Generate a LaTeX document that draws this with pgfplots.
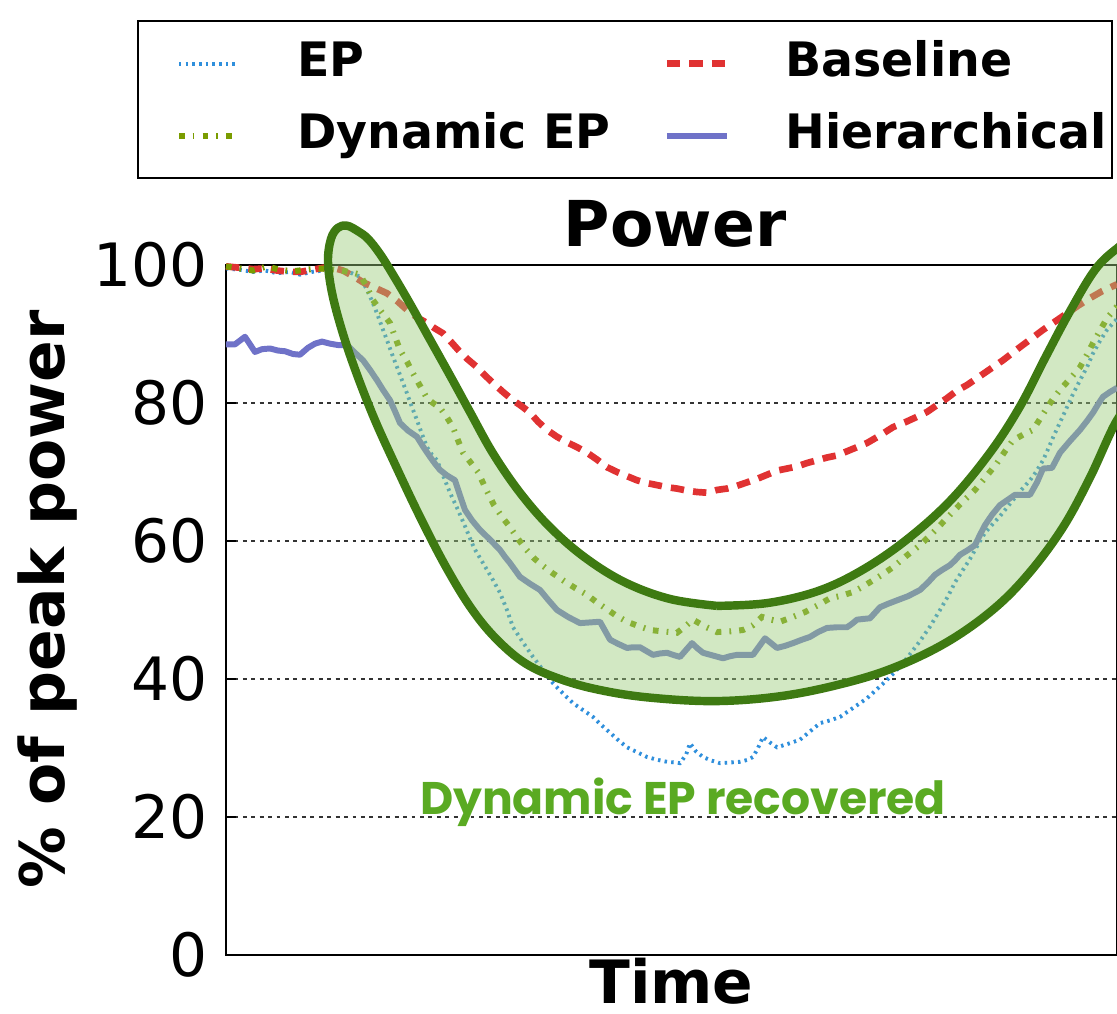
\documentclass[border=0pt]{standalone}
\usepackage{fontspec}
\setmainfont{DejaVu Sans}
\newfontfamily\gothic{Poppins}
\usepackage{pgfplots}
\pgfplotsset{compat=1.18}
\definecolor{epblue}{HTML}{2F8FDC}
\definecolor{basered}{HTML}{E03232}
\definecolor{dynolive}{HTML}{7A9C00}
\definecolor{hierblue}{HTML}{6F72C8}
\definecolor{banddark}{HTML}{3E7A12}
\definecolor{bandfill}{HTML}{9BCB7A}
\definecolor{recgreen}{HTML}{5AAA22}

\begin{document}
\begin{tikzpicture}
\begin{axis}[name=ax,
  scale only axis, width=8.91cm, height=6.9cm,
  xmin=226, xmax=1117, ymin=0, ymax=100,
  clip=false,
  axis line style={black, line width=0.8pt},
  xtick=\empty, ytick={0,20,...,100}, ytick pos=left,
  tick align=inside, major tick length=0.1cm,
  tick style={black, line width=0.5pt},
  ymajorgrids, major grid style={black!80, line width=0.5pt, dash pattern=on 1.1pt off 1.3pt},
  /pgf/number format/assume math mode=true,
  yticklabel style={anchor=east, inner sep=0pt, xshift=-0.18cm, font=\fontsize{17}{20}\selectfont},
  title={Power},
  title style={at={(axis description cs:0.504,1)}, anchor=base, yshift=-0.03cm, font=\fontsize{18}{21}\selectfont\bfseries},
  xlabel={Time},
  xlabel style={at={(axis description cs:0.5,0)}, anchor=base, yshift=-0.48cm, font=\fontsize{17}{20}\selectfont\bfseries},
  ylabel={\% of peak power},
  ylabel style={at={(axis description cs:-0.2,0.515)}, anchor=center, font=\fontsize{17.5}{20}\selectfont\bfseries},
  legend columns=2, legend cell align=left,
  legend image code/.code={\path (0cm,0cm); \draw[#1] (0.33cm,0cm) -- (0.93cm,0cm);},
  legend style={at={(-0.0999,1.355)}, anchor=north west, draw=black, line width=0.6pt,
    inner xsep=0.05cm, inner ysep=0.2cm, row sep=0.27cm,
    font=\fontsize{13.5}{16}\selectfont\bfseries,
    nodes={inner sep=0pt, text height=0.35cm, text depth=0.1cm, anchor=west},
    /tikz/every odd column/.append style={column sep=0.55cm},
    /tikz/every even column/.append style={column sep=0.2cm}},
]
% EP
\addplot[epblue, line width=1.1pt, dash pattern=on 0.7pt off 1.2pt] coordinates {
(226,99.5)(240,99.3)(253,99.0)(265,99.2)(277,98.8)(290,99.0)(300,98.6)(312,99.0)(323,99.2)(333,99.4)
(343,99.3)(352,98.8)(360,98.3)(367,96.4)(372,94.8)(377,93.0)(382,91.0)(387,89.1)(392,87.1)(397,85.2)
(402,83.3)(407,81.4)(412,79.4)(417,77.5)(422,75.5)(427,73.6)(432,72.5)(437,71.7)(443,69.5)(450,67.0)
(458,64.5)(466,61.8)(474,59.0)(483,56.8)(492,54.6)(500,52.5)(507,50.0)(513,47.5)(523,45.3)(533,43.2)
(543,41.3)(553,39.4)(563,37.9)(573,36.5)(583,35.5)(593,34.5)(600,33.5)(607,32.6)(617,31.3)(627,30.1)
(637,29.4)(647,28.7)(657,28.3)(667,28.0)(675,27.9)(680,27.8)(686,29.0)(690,30.7)(696,29.5)(703,28.7)
(711,28.2)(720,27.8)(730,27.9)(740,28.0)(748,28.3)(753,28.7)(758,30.0)(763,31.6)(770,30.8)(777,30.1)
(788,30.6)(800,31.2)(810,32.4)(820,33.6)(830,34.0)(840,34.5)(850,35.5)(860,36.5)(867,37.2)(873,38.0)
(882,39.2)(890,40.3)(900,41.8)(910,43.6)(920,45.5)(930,47.6)(940,50.0)(948,52.0)(955,54.0)(962,55.6)
(970,57.4)(978,59.5)(985,61.2)(993,62.5)(1000,63.6)(1010,65.4)(1020,67.2)(1030,68.8)(1036,70.0)(1043,71.7)
(1048,73.3)(1053,75.0)(1060,77.2)(1067,79.4)(1073,81.3)(1080,83.3)(1087,85.2)(1093,87.2)(1100,89.0)(1107,90.6)
(1117,92.2)};
\addlegendentry{EP}
% Baseline
\addplot[basered, line width=1.9pt, dash pattern=on 3.8pt off 2.6pt] coordinates {
(226,99.8)(240,99.6)(253,99.4)(265,99.5)(277,99.2)(290,99.0)(300,99.0)(312,99.3)(323,99.6)(333,99.6)
(343,99.2)(353,98.4)(363,97.5)(375,96.7)(387,95.9)(397,94.8)(407,93.5)(417,92.4)(427,91.6)(435,90.8)
(443,90.1)(452,88.7)(460,87.4)(468,86.3)(477,85.2)(485,84.0)(493,82.9)(503,81.6)(513,80.4)(522,79.5)
(530,78.6)(538,77.3)(547,76.1)(557,75.1)(567,74.3)(577,73.6)(587,72.8)(597,71.8)(607,70.7)(617,70.0)
(627,69.4)(637,68.8)(647,68.4)(657,68.1)(667,67.8)(677,67.6)(687,67.3)(697,67.1)(707,67.0)(717,67.4)
(727,67.6)(737,68.0)(747,68.5)(757,69.0)(767,69.6)(777,70.2)(787,70.5)(797,70.8)(807,71.3)(817,71.7)
(827,72.1)(837,72.4)(847,73.0)(857,73.6)(867,74.2)(880,75.3)(893,76.5)(905,77.2)(917,78.0)(927,78.7)
(937,79.7)(947,80.7)(957,81.8)(967,82.6)(977,83.6)(990,84.9)(1003,86.2)(1012,87.2)(1020,88.1)(1032,89.4)
(1043,90.6)(1055,91.8)(1067,93.0)(1078,94.1)(1090,95.2)(1102,96.2)(1117,97.2)};
\addlegendentry{Baseline}
% Dynamic EP
\addplot[dynolive, line width=1.7pt, dash pattern=on 1.6pt off 2.3pt on 0.5pt off 2.3pt] coordinates {
(226,99.8)(240,99.5)(253,99.2)(267,99.8)(280,99.3)(293,99.1)(305,99.3)(318,99.5)(330,99.4)(345,99.1)
(355,98.8)(360,98.6)(367,96.8)(373,94.9)(381,93.3)(390,91.6)(395,89.6)(400,87.7)(407,86.0)(413,84.3)
(420,82.5)(427,80.7)(433,80.0)(440,79.3)(447,77.9)(453,76.5)(458,74.6)(463,72.8)(470,71.5)(478,70.0)
(486,67.5)(494,65.2)(502,63.5)(510,62.0)(518,60.3)(526,58.8)(534,57.5)(542,56.5)(552,55.4)(563,54.3)
(575,53.2)(587,52.2)(596,51.2)(605,50.3)(616,49.2)(627,48.3)(638,47.7)(650,47.1)(663,46.9)(677,46.7)
(685,47.6)(693,48.6)(705,47.6)(717,46.8)(730,46.9)(743,47.1)(753,47.8)(762,49.0)(771,48.6)(780,48.3)
(793,49.0)(805,49.7)(818,50.7)(830,51.7)(842,52.1)(853,52.6)(863,53.4)(873,54.3)(883,55.2)(893,56.2)
(906,57.8)(920,59.4)(935,61.5)(950,63.8)(962,65.6)(975,67.4)(986,69.3)(997,71.3)(1005,73.0)(1013,74.6)
(1023,75.4)(1033,76.1)(1040,77.7)(1047,79.3)(1053,80.6)(1060,81.9)(1070,83.5)(1080,85.2)(1087,87.0)(1093,88.7)
(1100,90.5)(1107,92.3)(1117,94.0)};
\addlegendentry{Dynamic EP}
% Hierarchical
\addplot[hierblue, line width=1.7pt, line join=round] coordinates {
(226,88.5)(235,88.5)(245,89.6)(255,87.4)(262,87.8)(270,87.9)(278,87.6)(285,87.5)(293,87.1)(300,87.0)
(308,88.0)(315,88.6)(322,88.9)(330,88.6)(338,88.4)(347,88.4)(352,87.7)(357,87.0)(363,86.2)(370,84.8)
(377,83.3)(383,81.9)(390,80.4)(395,78.8)(400,77.1)(408,76.0)(417,75.1)(423,73.7)(430,72.2)(435,71.2)
(440,70.3)(447,69.5)(455,68.8)(460,66.6)(465,64.5)(472,63.0)(480,61.6)(490,60.2)(500,58.7)(505,57.7)
(510,56.8)(515,55.8)(520,54.8)(530,53.8)(540,52.9)(548,51.5)(557,50.0)(568,49.0)(580,48.1)(590,48.2)
(600,48.3)(605,47.0)(610,45.7)(618,45.1)(627,44.5)(633,44.6)(640,44.6)(647,44.0)(653,43.5)(660,43.7)
(667,43.8)(673,43.5)(680,43.2)(686,44.2)(692,45.2)(697,44.5)(703,43.8)(713,43.4)(723,43.0)(730,43.3)
(737,43.5)(745,43.5)(753,43.5)(759,44.7)(765,45.9)(771,45.2)(777,44.5)(785,44.8)(793,45.2)(802,45.7)
(810,46.1)(818,46.8)(827,47.4)(837,47.5)(847,47.5)(852,48.0)(857,48.6)(863,48.7)(870,48.8)(875,49.6)
(880,50.4)(888,50.9)(897,51.4)(908,52.0)(920,52.9)(928,54.0)(935,55.1)(942,55.8)(950,56.5)(955,57.2)
(960,58.0)(968,58.7)(975,59.4)(980,60.9)(985,62.3)(992,63.8)(1000,65.2)(1008,66.0)(1015,66.7)(1023,66.7)
(1030,66.7)(1037,68.5)(1043,70.5)(1052,70.6)(1060,72.8)(1070,74.5)(1080,76.1)(1087,77.4)(1093,78.6)(1098,79.8)
(1103,80.9)(1110,81.6)(1117,82.2)};
\addlegendentry{Hierarchical}
% highlighted band
\addplot[forget plot, smooth, tension=0.6, draw=banddark, line width=2.4pt, line join=round,
  fill=bandfill, fill opacity=0.45, draw opacity=1] coordinates {
(717,50.6)(767,51.0)(817,52.7)(860,55.6)(905,60.0)(950,65.8)(990,72.8)(1020,79.5)(1045,86.5)(1070,93.3)
(1095,99.3)(1117,102.4)(1140,104.5)(1165,103)(1165,83)(1135,80)(1117,77.5)(1090,69.2)(1063,62.0)
(1030,55.5)(995,50.3)(950,45.6)(900,42.0)(850,39.6)(785,37.6)(717,36.8)(650,37.3)(600,38.4)(560,40.0)
(525,42.3)(495,46.0)(470,50.5)(445,56.5)(420,63.5)(397,70.5)(375,77.5)(356,84.5)(342,90.5)(332,96.0)
(328,100.5)(331,103.8)(338,105.4)(347,105.7)(358,104.9)(368,103.8)(380,101.6)(393,98.6)(410,94.4)
(430,89.2)(450,84.0)(470,78.7)(493,72.7)(520,67.0)(550,62.0)(585,57.6)(625,54.0)(670,51.6)(717,50.6)};
\node[anchor=base, text=recgreen, font=\gothic\fontsize{13}{16}\selectfont\bfseries]
  at (axis cs:683,20.3) {Dynamic EP recovered};
\end{axis}
\pgfresetboundingbox
\useasboundingbox ([xshift=-2.26cm,yshift=-0.58cm]ax.south west) rectangle ([yshift=2.65cm]ax.north east);
\end{tikzpicture}
\end{document}
